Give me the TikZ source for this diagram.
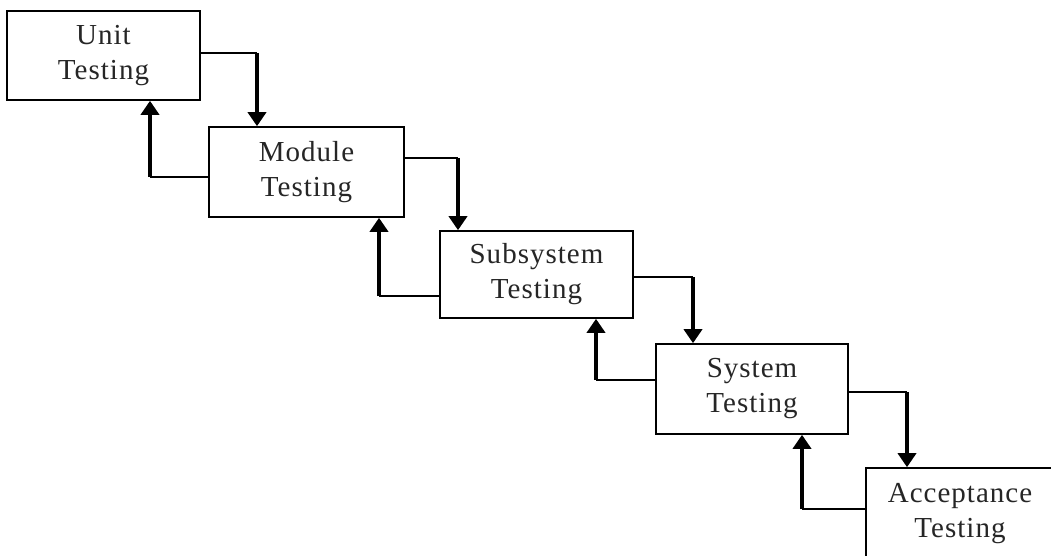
\documentclass[tikz,border=0pt]{standalone}
\usepackage{fontspec}
\setmainfont{Liberation Serif}[LetterSpace=3.5]
\usetikzlibrary{arrows.meta}
\tikzset{
  stage/.style={draw=black, line width=1.6pt, rectangle, align=center,
    font=\fontsize{29}{35}\selectfont, text=black!85, inner sep=0pt},
  link/.style={draw=black, line width=1.7pt},
  uparrow/.style={draw=black, line width=4.5pt, -{Triangle[width=18pt,length=14pt]}}
}
\begin{document}
\begin{tikzpicture}[x=1pt,y=-1pt]
\path[use as bounding box, clip] (0,0) rectangle (1051,556);
\fill[white] (0,0) rectangle (1051,556);
\node[stage, minimum width=193pt, minimum height=89pt] (unit) at (103.5,55.5) {Unit\\Testing};
\node[stage, minimum width=195pt, minimum height=90pt] (module) at (306.5,172) {Module\\Testing};
\node[stage, minimum width=193pt, minimum height=87pt] (subsys) at (536.5,274.5) {Subsystem\\Testing};
\node[stage, minimum width=192pt, minimum height=90pt] (system) at (752,389) {System\\Testing};
\node[stage, minimum width=188pt, minimum height=92pt] (accept) at (960,514) {Acceptance\\Testing};
% forward connectors
\coordinate (f1) at (257,53);
\coordinate (f2) at (458,158);
\coordinate (f3) at (693,277);
\coordinate (f4) at (907,392);
% return connectors
\coordinate (b1) at (150,177);
\coordinate (b2) at (379,296);
\coordinate (b3) at (596,380);
\coordinate (b4) at (802,509);
\draw[link] (unit.east |- f1) -- (f1);
\draw[uparrow] (f1) -- (f1 |- module.north);
\draw[link] (module.east |- f2) -- (f2);
\draw[uparrow] (f2) -- (f2 |- subsys.north);
\draw[link] (subsys.east |- f3) -- (f3);
\draw[uparrow] (f3) -- (f3 |- system.north);
\draw[link] (system.east |- f4) -- (f4);
\draw[uparrow] (f4) -- (f4 |- accept.north);
\draw[link] (module.west |- b1) -- (b1);
\draw[uparrow] (b1) -- (b1 |- unit.south);
\draw[link] (subsys.west |- b2) -- (b2);
\draw[uparrow] (b2) -- (b2 |- module.south);
\draw[link] (system.west |- b3) -- (b3);
\draw[uparrow] (b3) -- (b3 |- subsys.south);
\draw[link] (accept.west |- b4) -- (b4);
\draw[uparrow] (b4) -- (b4 |- system.south);
\end{tikzpicture}
\end{document}
